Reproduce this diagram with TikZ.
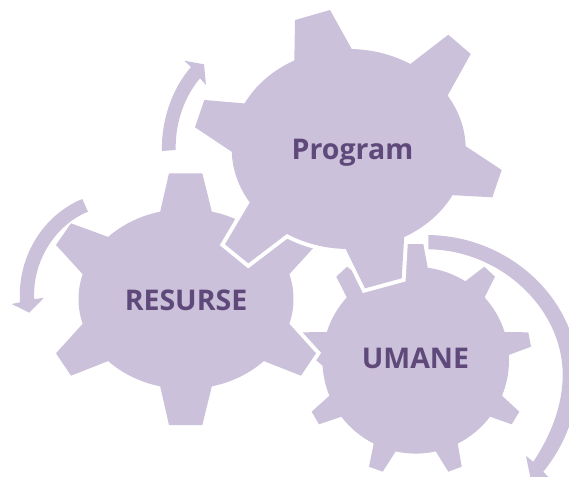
\documentclass[tikz,border=0pt]{standalone}
\usepackage{fontspec}
\setmainfont{Open Sans}
\usetikzlibrary{calc}
\definecolor{gearfill}{HTML}{CCC1DA}
\definecolor{geartext}{HTML}{5F497A}
\tikzset{
  x=1pt,y=1pt,
  gear/.style={fill=gearfill,preaction={draw=white,line width=8pt,line join=miter}},
  flow/.style={fill=gearfill},
  label/.style={font=\bfseries\fontsize{28.5}{30}\selectfont,text=geartext,inner sep=0pt},
}
% elliptical root arc between two teeth: centre x, centre y, a, b, from, to
\def\rootarc#1#2#3#4#5#6{-- ($(#1,#2)+(#5:#3pt and #4pt)$) arc[start angle=#5,end angle=#6,x radius=#3pt,y radius=#4pt]}
\def\U#1#2{\rootarc{415.7}{-360.3}{93.3}{93.3}{#1}{#2}}
\def\R#1#2{\rootarc{186}{-299}{107.5}{90}{#1}{#2}}
\def\P#1#2{\rootarc{348.7}{-149}{117}{100}{#1}{#2}}
\begin{document}
\begin{tikzpicture}
\useasboundingbox (0,0) rectangle (569,-476);
\clip (0,0) rectangle (569,-476);
% UMANE gear
\path[gear] (407.3,-244) -- (423.3,-244) \U{82.6}{57.9}
  -- (484.3,-266.7) -- (495,-276.7) \U{42.4}{17.6}
  -- (528.3,-332.3) -- (531,-346.7) \U{3.3}{-22.3}
  -- (519.3,-411.7) -- (511.7,-424.3) \U{-37.2}{-63.2}
  -- (461.7,-466.7) -- (448.3,-471.7) \U{-77.6}{-102.4}
  -- (382.7,-471.7) -- (369,-466.7) \U{-116.8}{-142.8}
  -- (319,-424.3) -- (311.7,-411.7) \U{-157.7}{-176.7}
  -- (300.3,-346.7) -- (303,-332.3) \U{-197.6}{-222.4}
  -- (336.3,-276.7) -- (347,-266.7) \U{-237.9}{-262.6} -- cycle;
% RESURSE gear
\path[gear] (169,-173.3) -- (202.3,-173.3) \R{76.1}{43.6}
  -- (301,-223.3) -- (316,-245) \R{16}{-16}
  -- (316,-353.3) -- (301,-375.7) \R{-43.6}{-76.1}
  -- (202.3,-425) -- (169,-425) \R{-103.9}{-136.4}
  -- (71,-375.7) -- (56,-353.3) \R{-164}{-196}
  -- (56,-245) -- (71,-223.3) \R{-223.6}{-256.1} -- cycle;
% Program gear
\path[gear] (295,-20) -- (330,-10) \P{88.5}{58.2}
  -- (448.3,-34.7) -- (470.7,-54) \P{32.3}{1.6}
  -- (501.7,-170) -- (492.3,-197.3) \P{-27.5}{-61.7}
  -- (401.7,-278.3) -- (365,-288.3) \P{-91.5}{-121.9}
  -- (248.3,-263.3) -- (225,-244.3) \P{-147.7}{-178.4}
  -- (195,-127.3) -- (204.3,-100) \P{-207.1}{-242.3} -- cycle;
% circular arrows
\path[flow] (162,-151) .. controls (161,-118) and (174,-86) .. (191,-67)
  -- (184.3,-60.7) -- (204,-64.3) -- (206,-85) -- (200,-78.3)
  .. controls (185,-96) and (175,-122) .. (175.7,-150) -- cycle;
\path[flow] (82.3,-199) .. controls (45,-214) and (17,-255) .. (20,-302.3)
  -- (11.7,-304) -- (29.3,-312.7) -- (44,-297.7) -- (34.3,-299.3)
  .. controls (32,-262) and (55,-225) .. (88,-211.7) -- cycle;
\path[flow] (428.3,-235) .. controls (510,-236) and (578,-300) .. (578,-375)
  .. controls (578,-412) and (565,-445) .. (543.3,-471.7)
  -- (556,-485) -- (532.5,-488) -- (526,-456) -- (533.3,-461.7)
  .. controls (551,-435) and (562.7,-405) .. (562.7,-375)
  .. controls (562.7,-308) and (500,-250) .. (428.3,-249.3) -- cycle;
% labels
\node[label] (program) at (352.5,-153) {Program};
\node[label] (resurse) at (186,-300) {RESURSE};
\node[label] (umane) at (415.5,-358.5) {UMANE};
\end{tikzpicture}
\end{document}
